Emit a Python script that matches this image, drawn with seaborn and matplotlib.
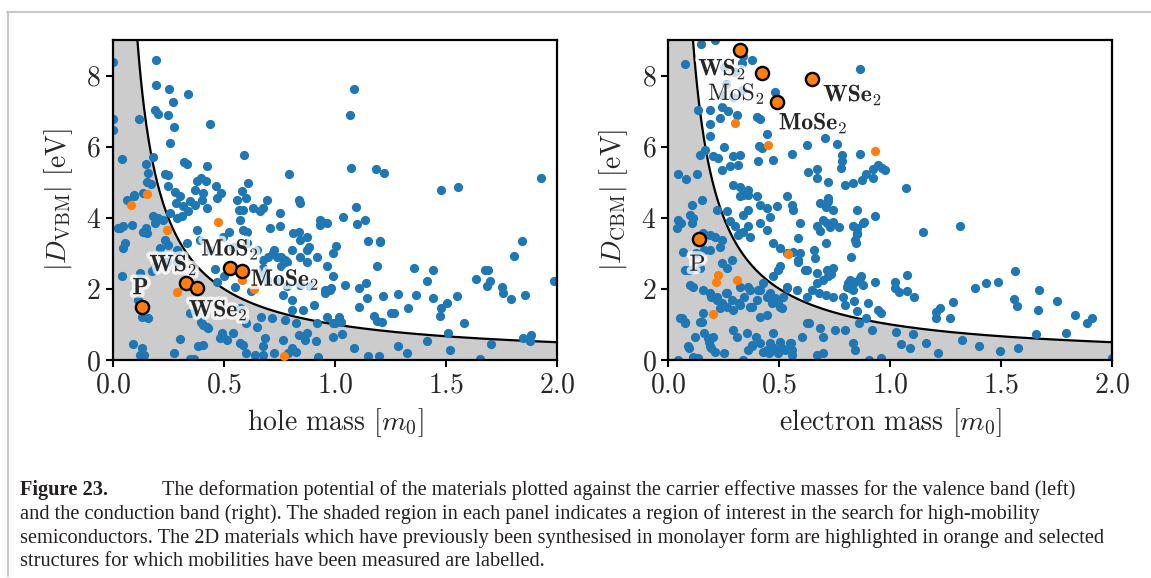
import numpy as np
import matplotlib
matplotlib.use("Agg")
import matplotlib.pyplot as plt
import matplotlib.patheffects as pe
from matplotlib.lines import Line2D
import seaborn as sns

# ---- data ----
# valence band (left panel): hole mass [m0], |D_VBM| [eV]
vbm_blue_m = [0.196, 0.195, 0.255, 0.337, 0.271, 0.190, 0.202, 0.249, 0.277, 0.439, 0.118, 0.003, 0.0, 0.0,
              0.258, 0.044, 0.589, 0.321, 0.336, 0.424, 0.792, 0.151, 0.180, 0.159, 0.234, 0.250, 0.154, 0.171,
              0.249, 0.282, 0.303, 0.381, 0.397, 0.418, 0.465, 0.486, 0.580, 0.609, 0.372, 0.408, 0.839, 0.096,
              0.135, 0.063, 0.094, 0.286, 0.318, 0.340, 0.370, 0.400, 0.423, 0.348, 0.468, 0.558, 0.588, 0.633,
              0.663, 0.693, 0.753, 0.843, 0.048, 0.033, 0.085, 0.138, 0.153, 0.190, 0.183, 0.205, 0.228, 0.258,
              0.288, 0.310, 0.055, 0.048, 0.123, 0.175, 0.190, 0.243, 0.288, 0.213, 0.236, 0.250, 0.288, 0.333,
              0.378, 0.393, 0.438, 0.498, 0.543, 0.588, 0.603, 0.648, 0.723, 0.753, 0.813, 0.843, 0.873, 0.933,
              0.963, 0.678, 0.738, 0.783, 0.843, 0.873, 0.918, 0.963, 0.993, 0.678, 0.693, 0.738, 0.783, 0.843,
              0.888, 0.978, 0.025, 0.150, 0.042, 0.116, 0.133, 0.158, 0.091, 0.133, 0.125, 0.141, 0.275, 0.303,
              0.349, 0.366, 0.383, 0.404, 0.404, 0.428, 0.399, 0.349, 0.491, 0.541, 0.516, 0.483, 0.587, 0.599,
              0.641, 0.674, 0.649, 0.687, 0.724, 0.765, 0.774, 0.824, 0.807, 0.824, 0.840, 0.865, 0.915, 0.923,
              0.790, 0.857, 0.907, 0.998, 0.423, 0.498, 0.573, 0.678, 0.873, 0.993, 0.918, 0.963, 0.571, 0.666,
              0.716, 0.600, 0.724, 0.757, 0.774, 0.807, 0.757, 0.699, 0.674, 0.765, 0.807, 0.807, 0.957, 0.957,
              0.932, 0.940, 0.840, 0.874, 0.882, 0.707, 0.674, 0.599, 0.566, 0.574, 0.604, 0.521, 0.460, 0.500,
              0.550, 0.620, 0.470,
              1.083, 1.065, 1.072, 1.186, 1.219, 1.476, 1.553, 1.925, 1.096, 1.036, 1.100, 1.134, 1.147, 1.200,
              1.203, 1.006, 0.989, 1.842, 1.806, 1.188, 1.357, 1.440, 1.414, 1.632, 1.673, 1.688, 1.698, 1.683,
              1.749, 1.755, 1.793, 1.854, 1.985, 0.982, 1.044, 1.107, 1.140, 1.144, 1.216, 1.281, 1.365, 1.441,
              1.550, 1.503, 1.477, 1.473, 1.108, 1.326, 1.252, 1.265, 1.173, 1.188, 1.210, 1.020, 1.027, 0.992,
              1.580, 1.032, 1.510, 1.845, 1.883, 1.878, 1.083, 1.146, 1.198, 1.284, 1.324, 1.414, 1.515, 1.701,
              1.652]
vbm_blue_d = [8.44, 7.73, 7.62, 7.48, 7.26, 7.04, 6.92, 6.89, 6.56, 6.63, 6.77, 8.39, 6.77, 6.48,
              6.11, 5.66, 5.77, 5.56, 5.50, 5.45, 5.24, 5.50, 5.70, 5.27, 5.23, 5.19, 5.02, 4.96,
              4.90, 4.73, 4.60, 5.04, 5.12, 5.03, 4.90, 4.70, 4.74, 4.98, 4.79, 4.70, 4.49, 4.65,
              4.70, 4.51, 4.62, 4.41, 4.32, 4.20, 4.37, 4.51, 4.27, 4.46, 4.55, 4.51, 4.23, 4.27,
              4.18, 4.51, 4.13, 4.41, 3.76, 3.71, 3.80, 3.61, 3.57, 3.85, 4.04, 3.99, 3.94, 4.13,
              3.99, 4.04, 3.29, 3.15, 2.44, 2.49, 2.63, 2.77, 2.77, 3.15, 3.38, 3.24, 3.10, 3.29,
              3.66, 3.38, 3.10, 3.47, 3.19, 3.66, 3.29, 3.10, 3.01, 3.76, 3.57, 3.38, 3.10, 3.94,
              3.85, 2.82, 2.91, 2.77, 2.91, 2.77, 2.91, 2.63, 2.35, 2.44, 2.25, 2.21, 2.07, 2.11,
              2.07, 1.97, 3.71, 3.71, 2.35, 1.69, 1.22, 1.17, 0.45, 0.33, 0.14, 0.14, 0.19, 0.58,
              0.02, 0.02, 0.38, 0.42, 0.98, 0.89, 1.08, 1.31, 0.75, 0.75, 0.56, 0.61, 0.42, 0.19,
              0.14, 0.14, 0.94, 0.61, 0.19, 0.56, 1.13, 1.03, 0.33, 0.23, 0.70, 0.56, 0.53, 0.08,
              0.19, 1.41, 1.55, 1.03, 0.94, 0.66, 0.47, 0.38, 0.75, 0.66, 1.03, 1.22, 1.45, 1.22,
              1.17, 1.05, 3.10, 2.91, 2.81, 3.10, 2.63, 2.91, 2.58, 1.83, 1.69, 1.41, 1.97, 1.88,
              3.80, 3.89, 3.61, 3.47, 3.19, 3.71, 4.27, 4.55, 4.22, 3.94, 3.61, 3.59, 2.55, 2.35,
              2.05, 1.95, 2.20,
              7.61, 6.90, 5.40, 5.37, 5.27, 4.77, 4.87, 5.11, 4.31, 4.03, 3.83, 3.93, 3.34, 3.34,
              3.31, 3.21, 3.00, 3.36, 2.92, 2.63, 2.60, 2.52, 2.21, 2.27, 2.52, 2.52, 2.23, 2.07,
              2.05, 1.89, 1.72, 1.84, 2.21, 2.02, 2.11, 2.02, 2.16, 1.75, 1.79, 1.87, 1.82, 1.73,
              1.80, 1.60, 1.46, 1.24, 1.48, 1.47, 1.31, 1.31, 1.24, 1.11, 1.06, 1.20, 1.08, 1.03,
              1.05, 0.73, 0.75, 0.61, 0.69, 0.54, 0.33, 0.11, 0.11, 0.39, 0.19, 0.54, 0.28, 0.45,
              0.03]
vbm_orange_m = [0.156, 0.081, 0.472, 0.246, 0.291, 0.580, 0.637, 0.772]
vbm_orange_d = [4.67, 4.37, 3.89, 3.65, 1.90, 2.25, 1.99, 0.12]
vbm_names = ["P", "WS$_\\mathbf{2}$", "WSe$_\\mathbf{2}$", "MoS$_\\mathbf{2}$", "MoSe$_\\mathbf{2}$"]
vbm_named_m = [0.130, 0.330, 0.378, 0.528, 0.583]
vbm_named_d = [1.48, 2.16, 2.02, 2.60, 2.49]
vbm_label_m = [0.125, 0.273, 0.475, 0.528, 0.775]
vbm_label_d = [2.02, 2.68, 1.41, 3.12, 2.27]

# conduction band (right panel): electron mass [m0], |D_CBM| [eV]
cbm_blue_m = [0.146, 0.210, 0.075, 0.338, 0.376, 0.331, 0.481, 0.863, 0.135, 0.188, 0.240, 0.270, 0.308, 0.233,
              0.188, 0.398, 0.413, 0.188, 0.446, 0.410, 0.420, 0.473, 0.623, 0.706, 0.759, 0.556, 0.781, 0.863,
              0.781, 0.946, 0.961, 0.923, 1.070, 0.143, 0.165, 0.203, 0.225, 0.240, 0.278, 0.315, 0.293, 0.323,
              0.045, 0.080, 0.128, 0.405, 0.631, 0.668, 0.721, 0.796, 0.833, 0.871, 0.923, 0.293, 0.323, 0.360,
              0.398, 0.338, 0.533, 0.721, 0.250, 0.300, 0.260, 0.330, 0.240, 0.290, 0.252, 0.777, 0.672, 0.892,
              0.105, 0.150, 0.045, 0.056, 0.098, 0.113, 0.105, 0.218, 0.263, 0.278, 0.158, 0.188, 0.210, 0.240,
              0.300, 0.315, 0.338, 0.068, 0.075, 0.098, 0.188, 0.233, 0.240, 0.263, 0.286, 0.158, 0.188, 0.218,
              0.263, 0.286, 0.323, 0.368, 0.233, 0.263, 0.323, 0.368, 0.398, 0.413, 0.458, 0.481, 0.495, 0.511,
              0.413, 0.443, 0.053, 0.075, 0.158, 0.150, 0.203, 0.188, 0.120, 0.090, 0.113, 0.308, 0.353, 0.376,
              0.413, 0.443, 0.473, 0.503, 0.548, 0.556, 0.601, 0.668, 0.698, 0.683, 0.698, 0.833, 0.796,
              0.323, 0.360, 0.413, 0.443, 0.360, 0.338, 0.488, 0.556, 0.563, 0.593, 0.668, 0.698, 0.713, 0.743,
              0.713, 0.683, 0.849, 0.931, 0.833, 0.849, 0.841, 0.878, 0.323, 0.360, 0.413, 0.443, 0.368, 0.473,
              0.503, 0.533, 0.563, 0.503, 0.495, 0.473, 0.586, 0.616, 0.661, 0.668, 0.713, 0.721, 0.743, 0.533,
              0.578, 0.623, 0.646, 0.668, 0.698, 0.743, 0.788, 0.803, 0.833, 0.863, 0.901, 0.946, 0.818, 0.878,
              0.848, 0.957, 0.890, 0.858, 0.918, 0.752, 0.627, 0.843, 0.902, 0.957, 0.797, 0.835, 0.680, 0.710,
              0.822, 0.657, 0.710, 0.593, 0.585, 0.735, 0.627, 0.868, 0.840, 0.810, 0.930, 0.818, 0.852, 0.852,
              0.847, 0.585, 0.727, 0.685, 0.743, 0.768, 0.882, 0.718, 0.710, 0.460, 0.040,
              0.043, 0.060, 0.077, 0.093, 0.135, 0.143, 0.160, 0.177, 0.185, 0.193, 0.210, 0.252, 0.293, 0.335,
              0.360, 0.377, 0.393, 0.427, 0.452, 0.460, 0.477, 0.493, 0.510, 0.527, 0.552, 0.557, 0.635, 0.110,
              0.193, 0.218, 0.243, 0.260, 0.293, 0.318, 0.343, 0.360, 0.377, 0.402, 0.427, 0.443, 0.468, 0.502,
              0.518, 0.535, 0.093, 0.143, 0.127, 0.160,
              0.976, 1.147, 1.313, 1.075, 1.021, 1.021, 1.039, 1.077, 1.105, 1.204, 1.224, 1.204, 1.269, 1.282,
              1.382, 1.430, 1.485, 1.560, 1.557, 1.572, 1.668, 1.665, 1.749, 1.832, 1.886, 1.907, 1.658, 1.790,
              1.024, 1.104, 1.047, 1.089, 1.159, 1.213, 1.324, 1.401, 1.493, 1.575, 1.997]
cbm_blue_d = [8.89, 8.99, 8.33, 8.54, 8.45, 8.36, 7.55, 8.19, 7.04, 7.04, 7.12, 6.99, 6.90, 6.81,
              6.64, 6.84, 6.78, 6.31, 6.36, 6.03, 5.96, 5.63, 6.04, 6.23, 6.08, 5.80, 5.77, 5.80,
              5.59, 5.49, 5.40, 5.37, 4.85, 5.77, 5.92, 5.73, 5.68, 5.35, 5.45, 5.49, 5.73, 5.77,
              5.24, 5.09, 5.24, 5.59, 5.30, 5.12, 5.02, 4.93, 4.99, 5.05, 5.12, 4.93, 4.86, 4.79,
              4.60, 4.65, 4.62, 4.55, 8.25, 8.10, 7.75, 7.60, 7.45, 7.40, 5.98, 5.41, 5.38, 5.23,
              4.37, 4.49, 3.94, 3.85, 4.08, 3.99, 3.85, 4.23, 4.18, 3.90, 3.57, 3.52, 3.47, 3.38,
              3.76, 3.52, 3.61, 3.05, 2.54, 2.11, 3.10, 3.19, 2.72, 2.58, 2.82, 1.97, 1.88, 1.78,
              1.88, 1.69, 2.06, 1.97, 1.46, 1.50, 1.55, 1.50, 1.69, 1.97, 1.88, 1.74, 1.60, 1.46,
              1.22, 1.27, 1.17, 1.03, 1.31, 1.08, 0.66, 0.38, 0.66, 0.38, 0.09, 0.66, 0.75, 0.38,
              0.47, 0.28, 0.75, 0.52, 0.47, 0.28, 0.66, 0.14, 0.19, 0.89, 0.66, 0.47, 0.85,
              4.60, 4.65, 4.37, 4.27, 4.23, 4.08, 4.32, 4.37, 4.23, 3.85, 3.76, 3.94, 3.85, 4.23,
              4.41, 4.41, 4.23, 4.04, 3.76, 3.57, 3.38, 3.85, 3.57, 3.76, 3.85, 3.66, 3.47, 3.29,
              3.15, 3.01, 3.05, 2.63, 2.54, 2.35, 2.77, 2.54, 2.86, 2.44, 2.54, 2.35, 2.58, 2.06,
              1.97, 1.78, 1.97, 2.16, 2.25, 1.78, 1.78, 2.06, 1.97, 2.30, 1.60, 1.41, 2.25, 2.11,
              1.37, 1.31, 1.19, 1.05, 0.83, 0.84, 1.03, 0.28, 0.00, 0.07, 1.55, 1.66, 1.88, 1.83,
              2.89, 3.10, 3.30, 3.00, 2.81, 2.42, 2.53, 2.36, 2.20, 2.16, 2.19, 2.02, 3.71, 3.55,
              3.30, 3.44, 3.75, 3.64, 3.88, 3.73, 3.87, 4.46, 4.30, 4.03, 3.70,
              0.00, 1.17, 1.08, 0.35, 0.05, 1.08, 0.75, 0.61, 0.52, 0.33, 0.23, 0.21, 0.84, 0.00,
              0.28, 0.42, 0.66, 0.23, 0.19, 0.47, 0.33, 0.19, 0.33, 0.28, 0.47, 0.14, 1.03, 2.06,
              1.78, 1.69, 1.59, 1.88, 1.41, 1.59, 1.78, 2.06, 1.50, 1.97, 2.16, 1.78, 1.59, 1.50,
              1.78, 2.02, 2.53, 2.58, 3.00, 3.10,
              5.35, 3.61, 3.76, 2.39, 2.19, 2.02, 1.91, 1.95, 1.77, 1.36, 1.47, 1.19, 1.17, 1.64,
              2.03, 2.16, 2.20, 2.51, 1.71, 1.53, 1.98, 1.41, 1.67, 1.27, 1.05, 1.17, 0.73, 0.77,
              0.78, 0.72, 0.44, 0.34, 0.47, 0.19, 0.56, 0.40, 0.25, 0.35, 0.05]
cbm_orange_m = [0.302, 0.448, 0.932, 0.537, 0.222, 0.213, 0.308, 0.202]
cbm_orange_d = [6.66, 6.05, 5.88, 2.97, 2.39, 2.20, 2.25, 1.29]
cbm_names = ["WS$_\\mathbf{2}$", "MoS$_2$", "WSe$_\\mathbf{2}$", "MoSe$_\\mathbf{2}$", "P"]
cbm_bold = [True, False, True, True, False]
cbm_named_m = [0.323, 0.423, 0.647, 0.490, 0.137]
cbm_named_d = [8.72, 8.07, 7.90, 7.27, 3.41]
cbm_label_m = [0.243, 0.308, 0.831, 0.653, 0.131]
cbm_label_d = [8.19, 7.51, 7.46, 6.67, 2.68]

boundary_const = 1.0   # D * m = const bounds the shaded region

caption_lines = [
    "The deformation potential of the materials plotted against the carrier effective masses for the valence band (left)",
    "and the conduction band (right). The shaded region in each panel indicates a region of interest in the search for high-mobility",
    "semiconductors. The 2D materials which have previously been synthesised in monolayer form are highlighted in orange and selected",
    "structures for which mobilities have been measured are labelled.",
]

sns.set_theme(style="ticks")
plt.rcParams["font.family"] = ["cmr10", "DejaVu Sans"]
plt.rcParams["mathtext.fontset"] = "cm"
plt.rcParams["axes.formatter.use_mathtext"] = True

BLUE = "#1f77b4"
ORANGE = "#ff7f0e"
halo = [pe.withStroke(linewidth=5, foreground="white", alpha=0.75)]


def draw_panel(ax, bm, bd, om, od, nm, nd, names, lm, ld, bold, xlabel, ylabel):
    m = np.linspace(0.001, 2.0, 800)
    edge = np.minimum(boundary_const / m, 9.0)
    ax.fill_between(m, 0, edge, color="#cccccc", lw=0, zorder=0)
    ax.plot(m, boundary_const / m, color="black", lw=1.6, zorder=1)
    sns.scatterplot(x=bm, y=bd, ax=ax, color=BLUE, s=44, linewidth=0, zorder=2)
    sns.scatterplot(x=om, y=od, ax=ax, color=ORANGE, s=44, linewidth=0, zorder=3)
    for name, x, y, b in zip(names, lm, ld, bold):
        ax.text(x, y, name, ha="center", va="center", fontsize=17,
                family="cmb10" if b else "cmr10", path_effects=halo, zorder=4)
    sns.scatterplot(x=nm, y=nd, ax=ax, color=ORANGE, s=90, edgecolor="black",
                    linewidth=1.7, zorder=5)
    ax.set_xlim(0, 2.0)
    ax.set_ylim(0, 9)
    ax.set_xticks([0.0, 0.5, 1.0, 1.5, 2.0])
    ax.set_yticks([0, 2, 4, 6, 8])
    ax.set_xlabel(xlabel, fontsize=20, labelpad=6)
    ax.set_ylabel(ylabel, fontsize=20, labelpad=8)
    ax.tick_params(labelsize=20, length=5, width=1.5, direction="out", color="black")
    for s in ax.spines.values():
        s.set_linewidth(1.6)
        s.set_color("black")


fig = plt.figure(figsize=(11.51, 5.78), dpi=100)
ax1 = fig.add_axes([112.7 / 1151, 1 - 360 / 578, 444.7 / 1151, 320 / 578])
ax2 = fig.add_axes([668.3 / 1151, 1 - 360 / 578, 444.0 / 1151, 320 / 578])

draw_panel(ax1, vbm_blue_m, vbm_blue_d, vbm_orange_m, vbm_orange_d,
           vbm_named_m, vbm_named_d, vbm_names, vbm_label_m, vbm_label_d, [True] * 5,
           "hole mass [$m_0$]", "$|D_\\mathrm{VBM}|$ [eV]")
draw_panel(ax2, cbm_blue_m, cbm_blue_d, cbm_orange_m, cbm_orange_d,
           cbm_named_m, cbm_named_d, cbm_names, cbm_label_m, cbm_label_d, cbm_bold,
           "electron mass [$m_0$]", "$|D_\\mathrm{CBM}|$ [eV]")

# page frame
frame = "#c8c8c8"
fig.add_artist(Line2D([7 / 1151, 1.0], [1 - 12 / 578, 1 - 12 / 578], color=frame, lw=1.5,
                      transform=fig.transFigure))
fig.add_artist(Line2D([8 / 1151, 8 / 1151], [1 - 12 / 578, 1 - 576 / 578], color=frame, lw=1.5,
                      transform=fig.transFigure))

# caption
cap_font = ["Liberation Serif", "DejaVu Serif"]
cap_size = 14.7
line_y = [490, 514, 538, 562]
fig.text(20 / 1151, 1 - line_y[0] / 578, "Figure 23.", fontsize=cap_size, weight="bold",
         family=cap_font, va="center", ha="left", color="#231f20")
fig.text(162 / 1151, 1 - line_y[0] / 578, caption_lines[0], fontsize=cap_size,
         family=cap_font, va="center", ha="left", color="#231f20")
for txt, y in zip(caption_lines[1:], line_y[1:]):
    fig.text(20 / 1151, 1 - y / 578, txt, fontsize=cap_size, family=cap_font,
             va="center", ha="left", color="#231f20")

fig.savefig("out.png", dpi=100)
